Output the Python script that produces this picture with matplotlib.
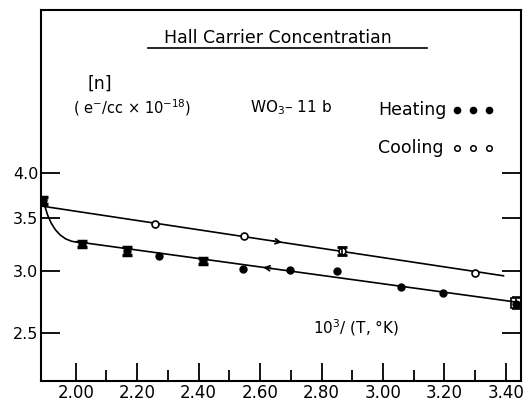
import numpy as np
import matplotlib
matplotlib.use("Agg")
from matplotlib import pyplot as plt
from matplotlib.path import Path
from matplotlib.patches import PathPatch
from matplotlib.ticker import FixedLocator, FixedFormatter, NullLocator

# heating run (filled circles), 10^3/T vs n
heat_x = [1.895, 2.02, 2.166, 2.272, 2.413, 2.545, 2.697, 2.851, 3.058, 3.194, 3.432]
heat_y = [3.69, 3.25, 3.18, 3.13, 3.09, 3.02, 3.01, 3.00, 2.86, 2.81, 2.72]
heat_bar_idx = [0, 1, 2, 4]
heat_err = [0.035, 0.03, 0.035, 0.03]

# cooling run (open circles)
cool_x = [2.258, 2.547, 2.865, 3.299]
cool_y = [3.44, 3.32, 3.18, 2.98]
cool_bar_idx = [2]
cool_err = [0.035]
# last cooling point sits on top of the last heating point
cool_end_x = 3.432
cool_end_y = 2.73
cool_end_err = 0.05

# straight fits (log scale)
cool_fit_x = [1.887, 3.392]
cool_fit_y = [3.63, 2.957]
heat_fit_x = [2.003, 3.449]
heat_fit_y = [3.268, 2.732]
# hand drawn knee at the start of the heating run: start, control, end
knee_x = [1.895, 1.925, 2.02]
knee_y = [3.69, 3.25, 3.262]

x_major = [2.00, 2.20, 2.40, 2.60, 2.80, 3.00, 3.20, 3.40]
x_minor = [2.10, 2.30, 2.50, 2.70, 2.90, 3.10, 3.30]
y_ticks = [2.5, 3.0, 3.5, 4.0]

plt.rcParams['font.family'] = ['DejaVu Sans']
fig = plt.figure(figsize=(5.26, 4.01), dpi=100)
ax = fig.add_axes([41 / 526, 1 - 381 / 401, 480 / 526, 371 / 401])

ax.set_yscale('log')
ax.set_xlim(1.887, 3.449)
ax.set_ylim(2.171, 6.455)

lw = 1.2
ax.plot(cool_fit_x, cool_fit_y, color='black', lw=lw)
ax.plot(heat_fit_x, heat_fit_y, color='black', lw=lw)
knee = Path(list(zip(knee_x, knee_y)), [Path.MOVETO, Path.CURVE3, Path.CURVE3])
ax.add_patch(PathPatch(knee, fill=False, color='black', lw=lw))

# direction arrows along the fits
def on_fit(fx, fy, x):
    return 10 ** np.interp(x, fx, np.log10(fy))

for x0, fx, fy, d in [(2.665, cool_fit_x, cool_fit_y, 1), (2.616, heat_fit_x, heat_fit_y, -1)]:
    ax.annotate('', xy=(x0 + d * 0.015, on_fit(fx, fy, x0 + d * 0.015)),
                xytext=(x0 - d * 0.03, on_fit(fx, fy, x0 - d * 0.03)),
                arrowprops=dict(arrowstyle='->', color='black', lw=1.2,
                                mutation_scale=9))

ax.plot(heat_x, heat_y, 'o', color='black', ms=5)
ax.errorbar([heat_x[i] for i in heat_bar_idx], [heat_y[i] for i in heat_bar_idx],
            yerr=heat_err, fmt='none', ecolor='black', elinewidth=3,
            capsize=3.5, capthick=2.5)
ax.plot(cool_x, cool_y, 'o', mfc='white', mec='black', mew=1.2, ms=5)
ax.errorbar([cool_x[i] for i in cool_bar_idx], [cool_y[i] for i in cool_bar_idx],
            yerr=cool_err, fmt='none', ecolor='black', elinewidth=1.2,
            capsize=3.5, capthick=2)
ax.errorbar([cool_end_x], [cool_end_y], yerr=cool_end_err, fmt='s', mfc='none',
            mec='black', mew=1.2, ms=7, ecolor='black', elinewidth=1.2,
            capsize=3, capthick=1.5)

for s in ax.spines.values():
    s.set_linewidth(1.5)

ax.xaxis.set_major_locator(FixedLocator(x_major))
ax.xaxis.set_major_formatter(FixedFormatter(['%.2f' % v for v in x_major]))
ax.xaxis.set_minor_locator(FixedLocator(x_minor))
ax.yaxis.set_major_locator(FixedLocator(y_ticks))
ax.yaxis.set_major_formatter(FixedFormatter(['%.1f' % v for v in y_ticks]))
ax.yaxis.set_minor_locator(NullLocator())
ax.tick_params(axis='x', which='major', direction='in', length=13, width=1.3,
               labelsize=12, pad=2, top=False)
ax.tick_params(axis='x', which='minor', direction='in', length=8, width=1.3, top=False)
ax.tick_params(axis='y', which='major', direction='in', length=14, width=1.3,
               labelsize=11.5, pad=2, right=True)

# annotations
def ftext(x, y, s, **kw):
    fig.text(x / 526, 1 - y / 401, s, va='center', **kw)

ftext(278, 38, 'Hall Carrier Concentratian', ha='center', fontsize=12.5)
fig.add_artist(plt.Line2D([148 / 526, 427 / 526], [1 - 48 / 401, 1 - 48 / 401],
                          color='black', lw=1.2))
ftext(100, 84, '[n]', ha='center', fontsize=12.5)
ftext(73, 108, r'( e$^{-}$/cc $\times$ 10$^{-18}$)', ha='left', fontsize=10.5)
ftext(250, 108, r'WO$_3$– 11 b', ha='left', fontsize=11)
ftext(378, 110, 'Heating', ha='left', fontsize=12.5)
ftext(378, 148, 'Cooling', ha='left', fontsize=12.5)
ftext(313, 328, r'10$^3$/ (T, °K)', ha='left', fontsize=11)

dots_x = np.array([457, 473, 489]) / 526
fig.add_artist(plt.Line2D(dots_x, [1 - 110 / 401] * 3, ls='none', marker='o',
                          ms=4.5, color='black'))
fig.add_artist(plt.Line2D(dots_x, [1 - 148 / 401] * 3, ls='none', marker='o',
                          ms=4, mfc='white', mec='black', mew=1.1))

fig.savefig('out.png', dpi=100)
